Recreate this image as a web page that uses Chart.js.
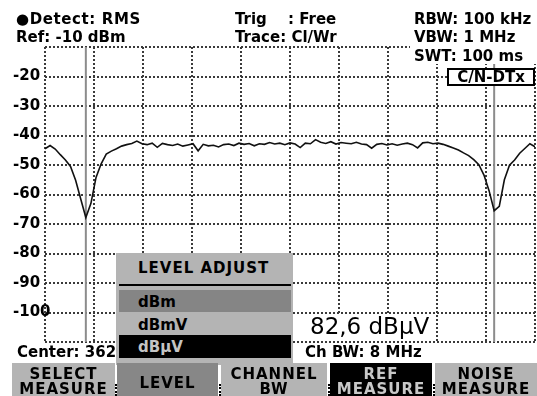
<!DOCTYPE html>
<html><head><meta charset="utf-8">
<script src="https://cdn.jsdelivr.net/npm/chart.js@4"></script>
<style>
html,body{margin:0;padding:0;background:#fff;}
#wrap{position:relative;width:537px;height:396px;overflow:hidden;font-family:"DejaVu Sans",sans-serif;font-weight:bold;color:#000;}
#c{position:absolute;left:0;top:0;}
.t{position:absolute;font-size:15px;line-height:15px;white-space:pre;}
.box{position:absolute;box-sizing:border-box;}
.key{position:absolute;top:363px;height:33px;box-sizing:border-box;text-align:center;font-size:15px;line-height:15px;letter-spacing:1px;white-space:pre;}
.sep{position:absolute;top:384px;height:12px;border-left:2px dotted #000;}
</style></head>
<body><div id="wrap">
<canvas id="c" width="537" height="396"></canvas>

<div class="t" style="left:16px;top:12px;letter-spacing:0.6px;">●Detect: RMS</div>
<div class="t" style="left:16px;top:30px;">Ref: -10 dBm</div>
<div class="t" style="left:235px;top:12px;">Trig</div>
<div class="t" style="left:288px;top:12px;">: Free</div>
<div class="t" style="left:235px;top:30px;">Trace: Cl/Wr</div>
<div class="t" style="left:414px;top:12px;">RBW: 100 kHz</div>
<div class="t" style="left:414px;top:30px;">VBW: 1 MHz</div>
<div class="box" style="left:410px;top:45px;width:127px;height:19px;background:#fff;"></div>
<div class="t" style="left:414px;top:49px;">SWT: 100 ms</div>
<div class="box" style="left:447px;top:68px;width:88px;height:18px;border:2px solid #000;background:#fff;text-align:center;font-size:15px;line-height:14px;">C/N-DTx</div>

<div class="box" style="left:293px;top:314px;width:142px;height:27px;background:#fff;"></div>
<div class="t" style="left:310px;top:315px;font-size:23px;line-height:23px;font-weight:normal;">82,6 dBµV</div>

<div class="t" style="left:17px;top:345px;">Center: 362 MHz</div>
<div class="t" style="left:305px;top:345px;">Ch BW: 8 MHz</div>

<div class="box" style="left:116px;top:253px;width:177px;height:112px;background:#b4b4b4;"></div>
<div class="t" style="left:138px;top:261px;letter-spacing:1px;">LEVEL ADJUST</div>
<div class="box" style="left:119px;top:284px;width:172px;height:2px;background:#000;"></div>
<div class="box" style="left:119px;top:290px;width:172px;height:22px;background:#858585;"></div>
<div class="t" style="left:138px;top:295px;">dBm</div>
<div class="t" style="left:138px;top:318px;">dBmV</div>
<div class="box" style="left:119px;top:335px;width:172px;height:23px;background:#000;"></div>
<div class="t" style="left:138px;top:340px;color:#c4c4c4;">dBµV</div>

<div class="key" style="left:12px;width:103px;background:#b4b4b4;padding-top:4px;">SELECT
MEASURE</div>
<div class="key" style="left:117px;width:101px;background:#878787;padding-top:13px;">LEVEL</div>
<div class="key" style="left:221px;width:106px;background:#b4b4b4;padding-top:4px;">CHANNEL
BW</div>
<div class="key" style="left:330px;width:102px;background:#000;color:#c8c8c8;padding-top:4px;">REF
MEASURE</div>
<div class="key" style="left:435px;width:102px;background:#b4b4b4;padding-top:4px;">NOISE
MEASURE</div>
<div class="sep" style="left:115px;"></div>
<div class="sep" style="left:219px;"></div>
<div class="sep" style="left:328px;"></div>
<div class="sep" style="left:433px;"></div>
</div>
<script>
// ---- data ----
const freqMHz = [
 -4.8,-4.7,-4.6,-4.5,-4.4,-4.3,-4.2,-4.1,-4.0,-3.9,-3.8,-3.7,-3.6,-3.5,-3.4,-3.3,
 -3.2,-3.1,-3.0,-2.9,-2.8,-2.7,-2.6,-2.5,-2.4,-2.3,-2.2,-2.1,-2.0,-1.9,-1.8,-1.7,
 -1.6,-1.5,-1.4,-1.3,-1.2,-1.1,-1.0,-0.9,-0.8,-0.7,-0.6,-0.5,-0.4,-0.3,-0.2,-0.1,
 0.0,0.1,0.2,0.3,0.4,0.5,0.6,0.7,0.8,0.9,1.0,1.1,1.2,1.3,1.4,1.5,
 1.6,1.7,1.8,1.9,2.0,2.1,2.2,2.3,2.4,2.5,2.6,2.7,2.8,2.9,3.0,3.1,
 3.2,3.3,3.4,3.5,3.6,3.7,3.8,3.9,4.0,4.1,4.2,4.3,4.4,4.5,4.6,4.7,4.8
];
const traceDbm = [
 -44.5,-43.4,-44.6,-46.5,-48.3,-50.5,-55.2,-61.5,-67.8,-63.0,-54.2,-49.6,-46.3,-45.3,-44.5,-43.6,
 -43.1,-42.7,-41.9,-42.8,-43.1,-42.6,-44.0,-42.7,-43.1,-43.4,-42.9,-43.6,-43.2,-42.8,-45.2,-43.0,
 -43.5,-43.3,-43.9,-43.1,-42.9,-43.4,-42.6,-43.0,-42.7,-43.5,-42.8,-43.0,-42.4,-42.9,-42.6,-43.1,
 -42.5,-42.9,-44.1,-42.6,-42.8,-41.4,-42.3,-42.7,-42.1,-42.9,-42.4,-42.6,-42.8,-42.3,-42.9,-43.1,
 -44.3,-43.0,-42.7,-43.2,-42.8,-43.3,-42.9,-42.6,-43.1,-44.2,-42.5,-42.3,-42.8,-42.6,-43.0,-43.6,
 -44.2,-44.9,-45.9,-46.8,-48.2,-49.9,-53.4,-58.7,-65.5,-64.0,-55.0,-50.1,-48.3,-46.0,-44.4,-42.8,-43.8
];
const channelEdgesMHz = [-4.0, 4.0];
const spanMHz = [-4.8, 4.8];
const xGridMHz = [-4.8,-3.84,-2.88,-1.92,-0.96,0,0.96,1.92,2.88,3.84,4.8];
const levelTicks = [-110,-100,-90,-80,-70,-60,-50,-40,-30,-20,-10];
const levelLabels = ['', '-100','-90','-80','-70','-60','-50','-40','-30','-20',''];

const gridStyle = {color:'#3a3a3a', lineWidth:2, drawTicks:false};
const dash = [2,2];

new Chart(document.getElementById('c'), {
  type:'line',
  data:{datasets:[
    {data: freqMHz.map((f,i)=>({x:f,y:traceDbm[i]})), borderColor:'#111', borderWidth:1.6, pointRadius:0, tension:0, order:0},
    {data: [{x:channelEdgesMHz[0],y:levelTicks[levelTicks.length-1]},{x:channelEdgesMHz[0],y:levelTicks[0]}], borderColor:'#8c8c8c', borderWidth:2, pointRadius:0, order:1},
    {data: [{x:channelEdgesMHz[1],y:levelTicks[levelTicks.length-1]},{x:channelEdgesMHz[1],y:levelTicks[0]}], borderColor:'#8c8c8c', borderWidth:2, pointRadius:0, order:1}
  ]},
  options:{
    responsive:false, animation:false, devicePixelRatio:1,
    layout:{padding:{left:0, top:47, right:2, bottom:54}},
    plugins:{legend:{display:false}, tooltip:{enabled:false}},
    scales:{
      x:{type:'linear', min:spanMHz[0], max:spanMHz[1],
         afterBuildTicks:s=>{s.ticks = xGridMHz.map(v=>({value:v}));},
         ticks:{display:false}, grid:gridStyle, border:{display:false, dash:dash},
         afterFit:s=>{s.height=0;}},
      y:{type:'linear', min:levelTicks[0], max:levelTicks[levelTicks.length-1],
         afterBuildTicks:s=>{s.ticks = levelTicks.map(v=>({value:v}));},
         ticks:{mirror:true, crossAlign:'near', padding:-32, color:'#000', font:{family:'DejaVu Sans', size:15, weight:'bold'},
           callback:(v)=>levelLabels[levelTicks.indexOf(v)]},
         grid:gridStyle, border:{display:false, dash:dash},
         afterFit:s=>{s.width=45;}}
    }
  }
});
</script>
</body></html>
